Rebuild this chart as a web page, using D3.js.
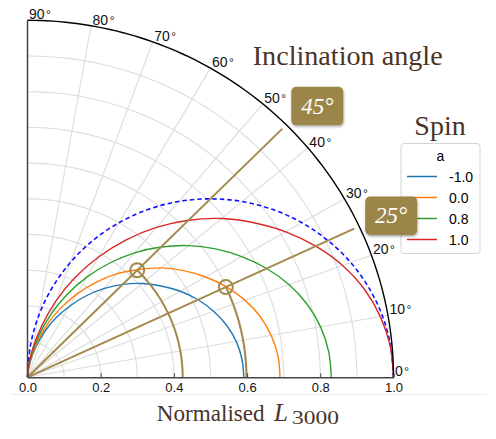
<!DOCTYPE html>
<html>
<head>
<meta charset="utf-8">
<script src="https://cdn.jsdelivr.net/npm/d3@7"></script>
<style>
  body { margin: 0; background: #fff; }
  svg { display: block; }
</style>
</head>
<body>
<script>
// DATA

// Inclination angles (degrees) at which the luminosity was sampled
const angles = [0, 5, 10, 15, 20, 25, 30, 35, 40, 45, 50, 55, 60, 65, 70, 75, 80, 85, 90];

// Spin values (legend entries)
const spins = ["-1.0", "0.0", "0.8", "1.0"];

// Normalised L3000 for each spin
const lumSpinM10 = [0.591, 0.588, 0.579, 0.563, 0.541, 0.514, 0.482, 0.446, 0.409, 0.368, 0.324, 0.278, 0.230, 0.183, 0.135, 0.087, 0.047, 0.018, 0];
const lumSpin00  = [0.690, 0.687, 0.676, 0.658, 0.632, 0.600, 0.562, 0.521, 0.477, 0.426, 0.378, 0.324, 0.269, 0.213, 0.157, 0.102, 0.055, 0.021, 0];
const lumSpin08  = [0.830, 0.826, 0.813, 0.791, 0.760, 0.721, 0.676, 0.627, 0.574, 0.516, 0.455, 0.390, 0.324, 0.256, 0.189, 0.123, 0.066, 0.025, 0];
const lumSpin10  = [1.000, 0.995, 0.979, 0.953, 0.916, 0.869, 0.815, 0.755, 0.692, 0.622, 0.548, 0.470, 0.390, 0.309, 0.228, 0.148, 0.080, 0.030, 0];

// Reference (dashed) curve
const lumLambert = [1.000, 0.996, 0.985, 0.966, 0.940, 0.906, 0.866, 0.819, 0.766, 0.707, 0.643, 0.574, 0.500, 0.423, 0.342, 0.259, 0.174, 0.087, 0];

// Highlighted inclinations and the luminosity picked on each
const inclinations = [45, 25];
const pickedLum = [0.424, 0.598];

// Tick labels
const radialTicks = [0, 0.2, 0.4, 0.6, 0.8, 1.0];
const angleTicks = [0, 10, 20, 30, 40, 50, 60, 70, 80, 90];
const gridRadii = [0.1, 0.2, 0.3, 0.4, 0.5, 0.6, 0.7, 0.8, 0.9];
const gridAngles = [10, 20, 30, 40, 50, 60, 70, 80];

// LAYOUT
const width = 496;
const height = 439;
const brown = '#a38a4c';
const ink = '#4b3328';

const svg = d3.select('body')
  .append('svg')
  .attr('width', width)
  .attr('height', height)
  ;

// Scales (cartesian projection of the polar quadrant)
const x = d3.scaleLinear().domain([0, 1]).range([27.5, 393.5]);
const y = d3.scaleLinear().domain([0, 1]).range([377.3, 20.3]);
const color = d3.scaleOrdinal()
  .domain(spins)
  .range(['#1f77b4', '#ff7f0e', '#2ca02c', '#d62728'])
  ;

const rad = (d) => d * Math.PI / 180;
const polar = (r, a) => [x(r * Math.cos(rad(a))), y(r * Math.sin(rad(a)))];
const line = d3.line();
const smooth = d3.line().curve(d3.curveCatmullRom);
const arcPoints = (r, a0, a1) => d3.range(a0, a1 + 0.5, 1).map((a) => polar(r, a));

// drop shadow for the annotation boxes
svg.append('defs')
  .append('filter')
  .attr('id', 'shadow')
  .attr('x', '-20%').attr('y', '-20%').attr('width', '140%').attr('height', '150%')
  .append('feDropShadow')
  .attr('dx', 0.5).attr('dy', 1.5)
  .attr('stdDeviation', 1.2)
  .attr('flood-color', '#000')
  .attr('flood-opacity', 0.35)
  ;

// GRID
const grid = svg.append('g').classed('grid', true)
  .attr('fill', 'none')
  .attr('stroke', '#dcdcdc')
  .attr('stroke-width', 1.1)
  ;

grid.selectAll('path.ring')
  .data(gridRadii)
  .join('path')
  .classed('ring', true)
  .attr('d', (r) => line(arcPoints(r, 0, 90)))
  ;

grid.selectAll('path.spoke')
  .data(gridAngles)
  .join('path')
  .classed('spoke', true)
  .attr('d', (a) => line([polar(0, a), polar(1, a)]))
  ;

// light separator under the axis labels
svg.append('line')
  .attr('x1', 11).attr('x2', 486)
  .attr('y1', 394.5).attr('y2', 394.5)
  .attr('stroke', '#ebebeb')
  ;

// CURVES
const series = [lumSpinM10, lumSpin00, lumSpin08, lumSpin10];

svg.append('path')
  .attr('d', smooth(angles.map((a, i) => polar(lumLambert[i], a))))
  .attr('fill', 'none')
  .attr('stroke', '#1010ff')
  .attr('stroke-width', 1.6)
  .attr('stroke-dasharray', '4.5,3')
  ;

svg.append('g')
  .classed('curves', true)
  .selectAll('path')
  .data(spins)
  .join('path')
  .attr('d', (s, k) => smooth(angles.map((a, i) => polar(series[k][i], a))))
  .attr('fill', 'none')
  .attr('stroke', (s) => color(s))
  .attr('stroke-width', 1.4)
  ;

// INCLINATION GUIDES
const guides = svg.append('g')
  .classed('guides', true)
  .attr('fill', 'none')
  .attr('stroke', brown)
  .attr('stroke-width', 2)
  ;

guides.selectAll('path.ray')
  .data(inclinations)
  .join('path')
  .classed('ray', true)
  .attr('d', (a) => line([polar(0, a), polar(0.985, a)]))
  ;

guides.selectAll('path.drop')
  .data(inclinations)
  .join('path')
  .classed('drop', true)
  .attr('d', (a, i) => line(arcPoints(pickedLum[i], 0, a)))
  ;

guides.selectAll('circle')
  .data(inclinations)
  .join('circle')
  .attr('cx', (a, i) => polar(pickedLum[i], a)[0])
  .attr('cy', (a, i) => polar(pickedLum[i], a)[1])
  .attr('r', 7)
  ;

// AXES
const outline = svg.append('g').attr('fill', 'none');

outline.append('path')
  .attr('d', line(arcPoints(1, 0, 90)))
  .attr('stroke', '#000')
  .attr('stroke-width', 1.4)
  ;

outline.append('path')
  .attr('d', line([polar(0, 90), polar(1, 90)]))
  .attr('stroke', '#444')
  .attr('stroke-width', 1.5)
  ;

const xAxis = d3.axisBottom(x)
  .tickValues(radialTicks)
  .tickFormat(d3.format('.1f'))
  .tickSizeInner(-4)
  .tickSizeOuter(0)
  .tickPadding(5)
  ;

svg.append('g')
  .classed('axis x', true)
  .attr('transform', 'translate(0,' + y(0) + ')')
  .call(xAxis)
  .call((g) => g.select('.domain').attr('stroke', '#444').attr('stroke-width', 1.5))
  .call((g) => g.selectAll('.tick line').attr('stroke', '#444'))
  .call((g) => g.selectAll('text')
    .attr('font-family', 'Liberation Sans, Arial, sans-serif')
    .attr('font-size', 13)
    .attr('fill', '#111'))
  ;

// angular tick labels
const angleLabel = svg.append('g')
  .classed('axis angle', true)
  .selectAll('text')
  .data(angleTicks)
  .join('text')
  .attr('x', (a) => polar(1, a)[0] + 1.5)
  .attr('y', (a) => polar(1, a)[1] - 1)
  .attr('font-family', 'Liberation Sans, Arial, sans-serif')
  .attr('font-size', 14)
  .attr('fill', '#111')
  .text((a) => a)
  ;
angleLabel.append('tspan')
  .attr('dx', 1.5)
  .attr('font-size', 12)
  .text('\u00b0')
  ;

// TITLES
svg.append('text')
  .attr('x', 252.7)
  .attr('y', 65)
  .attr('font-family', 'Liberation Serif, serif')
  .attr('font-size', 27)
  .attr('fill', ink)
  .attr('textLength', 190)
  .attr('lengthAdjust', 'spacingAndGlyphs')
  .text('Inclination angle')
  ;

svg.append('text')
  .attr('x', 440)
  .attr('y', 135)
  .attr('text-anchor', 'middle')
  .attr('font-family', 'Liberation Serif, serif')
  .attr('font-size', 28)
  .attr('fill', ink)
  .text('Spin')
  ;

// x label: Normalised L_3000
const xLabel = svg.append('g')
  .classed('xlabel', true)
  .attr('font-family', 'Liberation Serif, serif')
  .attr('fill', ink)
  ;
xLabel.append('text')
  .attr('x', 156.7).attr('y', 421)
  .attr('font-size', 23)
  .attr('textLength', 108)
  .attr('lengthAdjust', 'spacingAndGlyphs')
  .text('Normalised')
  ;
xLabel.append('text')
  .attr('x', 274).attr('y', 421)
  .attr('font-size', 25)
  .attr('font-style', 'italic')
  .text('L')
  ;
xLabel.append('text')
  .attr('x', 292).attr('y', 423.5)
  .attr('font-size', 18)
  .attr('textLength', 47)
  .attr('lengthAdjust', 'spacingAndGlyphs')
  .text('3000')
  ;

// LEGEND
const legend = svg.append('g')
  .classed('legend', true)
  .attr('transform', 'translate(401,143.5)')
  ;

legend.append('rect')
  .attr('width', 79)
  .attr('height', 110)
  .attr('rx', 3)
  .attr('fill', '#fff')
  .attr('stroke', '#d4d4d4')
  ;

legend.append('text')
  .attr('x', 39.5)
  .attr('y', 17)
  .attr('text-anchor', 'middle')
  .attr('font-family', 'Liberation Sans, Arial, sans-serif')
  .attr('font-size', 14)
  .text('a')
  ;

const entry = legend.selectAll('g.entry')
  .data(spins)
  .join('g')
  .classed('entry', true)
  .attr('transform', (s, i) => 'translate(0,' + (33 + i * 21) + ')')
  ;

entry.append('line')
  .attr('x1', 6).attr('x2', 36)
  .attr('stroke', (s) => color(s))
  .attr('stroke-width', 1.5)
  ;

entry.append('text')
  .attr('x', 48)
  .attr('dy', '0.36em')
  .attr('font-family', 'Liberation Sans, Arial, sans-serif')
  .attr('font-size', 14)
  .text((s) => s)
  ;

// ANNOTATION BOXES (anchored to where each ray meets the outer arc)
const boxOffset = [[5, -38], [6, -30]];

const boxes = svg.append('g')
  .classed('boxes', true)
  .selectAll('g')
  .data(inclinations)
  .join('g')
  .attr('transform', (a, i) => {
    const p = polar(1, a);
    return 'translate(' + (p[0] + boxOffset[i][0]) + ',' + (p[1] + boxOffset[i][1]) + ')';
  })
  ;

boxes.append('rect')
  .attr('width', 52)
  .attr('height', 38.5)
  .attr('rx', 5)
  .attr('fill', '#9b8549')
  .attr('filter', 'url(#shadow)')
  ;

boxes.append('text')
  .attr('x', 26)
  .attr('y', 27)
  .attr('text-anchor', 'middle')
  .attr('font-family', 'Liberation Serif, serif')
  .attr('font-style', 'italic')
  .attr('font-size', 23)
  .attr('fill', '#fff')
  .text((a) => a + '\u00b0')
  ;
</script>
</body>
</html>
